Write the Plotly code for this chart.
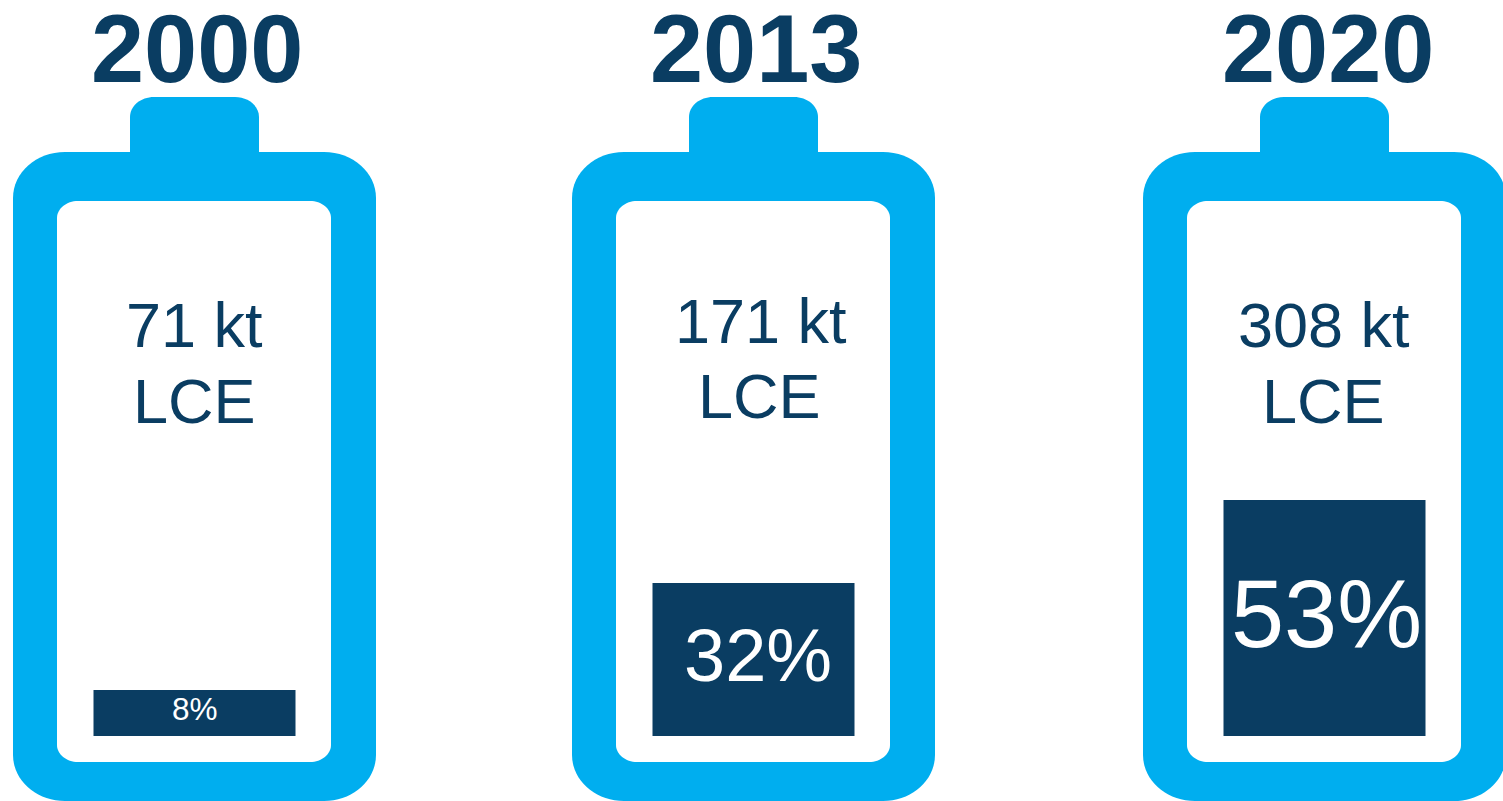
import plotly.graph_objects as go

W, H = 1503, 801
BASE_PX = 736  # pixel row of the fill bottom

years = ["2000", "2013", "2020"]
tonnage_labels = ["71 kt", "171 kt", "308 kt"]
unit_labels = ["LCE", "LCE", "LCE"]
share_labels = ["8%", "32%", "53%"]
fill_heights = [46, 153, 236]

centers = [194.5, 753.5, 1324.5]
battery_left = [13, 572, 1143]
share_sizes = [31.5, 74, 95.5]
share_x = [194.5, 758, 1326.5]
share_y = [709, 655, 614]
year_x = [197, 756, 1328]
ton_x = [194.5, 761, 1324]
ton_y = [325, 321, 325]
unit_x = [194, 759, 1323]
unit_y = [401, 396, 401]

NAVY = "#0A3D62"
CYAN = "#00AEEF"
K = 0.4477  # control-point inset for an elliptical corner


def py(p):
    return BASE_PX - p


def rrect(x0, y0, x1, y1, rx, ry):
    """Rounded rectangle given in pixel rows, returned in axis units."""
    dx, dy = rx * K, ry * K
    pts = [
        ("M", (x0 + rx, y0)), ("L", (x1 - rx, y0)),
        ("C", (x1 - dx, y0), (x1, y0 + dy), (x1, y0 + ry)),
        ("L", (x1, y1 - ry)),
        ("C", (x1, y1 - dy), (x1 - dx, y1), (x1 - rx, y1)),
        ("L", (x0 + rx, y1)),
        ("C", (x0 + dx, y1), (x0, y1 - dy), (x0, y1 - ry)),
        ("L", (x0, y0 + ry)),
        ("C", (x0, y0 + dy), (x0 + dx, y0), (x0 + rx, y0)),
    ]
    out = []
    for seg in pts:
        out.append(seg[0] + " ".join(f"{x},{py(y)}" for x, y in seg[1:]))
    return " ".join(out) + " Z"


shapes = []
for left in battery_left:
    shapes.append(dict(type="path", layer="below", fillcolor=CYAN, line_width=0,
                       path=rrect(left + 117, 97, left + 246, 190, 24, 20)))
    shapes.append(dict(type="path", layer="below", fillcolor=CYAN, line_width=0,
                       path=rrect(left, 152, left + 363, 801, 52, 46)))
    shapes.append(dict(type="path", layer="below", fillcolor="white", line_width=0,
                       path=rrect(left + 44, 201, left + 318, 762, 21, 17)))

fig = go.Figure(go.Bar(
    x=centers, y=fill_heights, width=202, marker=dict(color=NAVY, line_width=0),
    hoverinfo="skip",
))

annotations = []
for i, year in enumerate(years):
    annotations.append(dict(x=year_x[i], y=py(48.5), text=f"<b>{year}</b>", showarrow=False,
                            xanchor="center", yanchor="middle",
                            font=dict(family="Liberation Sans", size=95.5, color=NAVY)))
    annotations.append(dict(x=ton_x[i], y=py(ton_y[i]), text=tonnage_labels[i], showarrow=False,
                            xanchor="center", yanchor="middle",
                            font=dict(family="Liberation Sans", size=63, color=NAVY)))
    annotations.append(dict(x=unit_x[i], y=py(unit_y[i]), text=unit_labels[i], showarrow=False,
                            xanchor="center", yanchor="middle",
                            font=dict(family="Liberation Sans", size=63, color=NAVY)))
    annotations.append(dict(x=share_x[i], y=py(share_y[i]), text=share_labels[i], showarrow=False,
                            xanchor="center", yanchor="middle",
                            font=dict(family="Liberation Sans", size=share_sizes[i], color="white")))

fig.update_layout(
    width=W, height=H, margin=dict(l=0, r=0, t=0, b=0),
    paper_bgcolor="white", plot_bgcolor="white", showlegend=False,
    xaxis=dict(range=[0, W], visible=False, fixedrange=True),
    yaxis=dict(range=[BASE_PX - H, BASE_PX], visible=False, fixedrange=True),
    shapes=shapes, annotations=annotations,
)
fig.write_html("out.html", config=dict(displayModeBar=False),
               post_script="document.body.style.margin='0';document.body.style.overflow='hidden';")
